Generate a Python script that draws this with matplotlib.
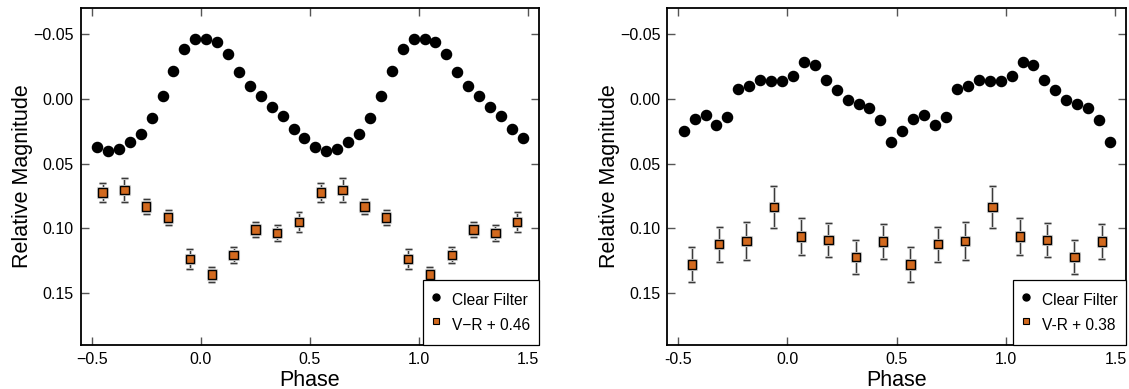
import matplotlib.pyplot as plt
import matplotlib.patheffects as pe
import numpy as np
from matplotlib.lines import Line2D
from matplotlib.ticker import FuncFormatter

plt.rcParams['font.family'] = ['Liberation Sans', 'DejaVu Sans']

# Clear filter light curves (one cycle, shown twice)
phase_clear = [-0.475, -0.425, -0.375, -0.325, -0.275, -0.225, -0.175, -0.125, -0.075, -0.025,
               0.025, 0.075, 0.125, 0.175, 0.225, 0.275, 0.325, 0.375, 0.425, 0.475]
clear_left = [0.0375, 0.0403, 0.0385, 0.0330, 0.0273, 0.0145, -0.0021, -0.0214, -0.0383, -0.0459,
              -0.0461, -0.0441, -0.0347, -0.0211, -0.0097, -0.0021, 0.0059, 0.0135, 0.0231, 0.0299]
clear_right = [0.0247, 0.0153, 0.0122, 0.0205, 0.0141, -0.0076, -0.0099, -0.0146, -0.0136, -0.0136,
               -0.0180, -0.0287, -0.0258, -0.0146, -0.0066, 0.0005, 0.0039, 0.0067, 0.0166, 0.0336]

# V-R colour curves
phase_vr_left = [-0.45, -0.35, -0.25, -0.15, -0.05, 0.05, 0.15, 0.25, 0.35, 0.45]
vr_left = [0.0723, 0.0703, 0.0830, 0.0916, 0.1237, 0.1356, 0.1203, 0.1008, 0.1034, 0.0950]
vr_left_err = [0.0075, 0.0090, 0.0060, 0.0060, 0.0078, 0.0055, 0.0060, 0.0060, 0.0060, 0.0078]

phase_vr_right = [-0.4375, -0.3125, -0.1875, -0.0625, 0.0625, 0.1875, 0.3125, 0.4375]
vr_right = [0.1278, 0.1122, 0.1096, 0.0836, 0.1062, 0.1088, 0.1219, 0.1101]
vr_right_err = [0.0137, 0.0134, 0.0148, 0.0164, 0.0146, 0.0129, 0.0129, 0.0137]

panels = [
    (clear_left, phase_vr_left, vr_left, vr_left_err, "V\u2212R + 0.46", "\u2212"),
    (clear_right, phase_vr_right, vr_right, vr_right_err, "V-R + 0.38", "-"),
]

orange = "#d2691e"
halo = [pe.withStroke(linewidth=2.2, foreground="#d8d8d8")]

fig = plt.figure(figsize=(11.29, 3.89), dpi=100)
positions = [[0.0715, 0.113, 0.406, 0.866], [0.591, 0.113, 0.4067, 0.866]]

for pos, (clear, ph_vr, vr, vr_err, vr_label, minus) in zip(positions, panels):
    ax = fig.add_axes(pos)
    ph = np.array(phase_clear)
    ax.plot(np.concatenate([ph, ph + 1]), clear + clear, "o", color="black",
            markersize=7.3, zorder=3)

    pv = np.array(ph_vr)
    eb = ax.errorbar(np.concatenate([pv, pv + 1]), vr + vr, yerr=vr_err + vr_err,
                     fmt="s", color=orange, markeredgecolor="black", markeredgewidth=1.0,
                     markersize=6, ecolor="#3a3a3a", elinewidth=0.9, capsize=2.5,
                     capthick=0.9, zorder=2)
    eb[0].set_path_effects(halo)
    for art in list(eb[1]) + list(eb[2]):
        art.set_path_effects(halo)

    ax.set_xlim(-0.55, 1.55)
    ax.set_ylim(0.19, -0.07)
    ax.set_xticks([-0.5, 0.0, 0.5, 1.0, 1.5])
    ax.set_yticks([-0.05, 0.0, 0.05, 0.10, 0.15])
    ax.xaxis.set_major_formatter(FuncFormatter(lambda v, p, m=minus: f"{v:.1f}".replace("-", m)))
    ax.yaxis.set_major_formatter(FuncFormatter(lambda v, p: f"{v:.2f}".replace("-", "\u2212")))
    ax.tick_params(direction="in", length=6, width=1.0, color="#555555",
                   labelsize=11.5, top=True, right=True, pad=5)
    for sp in ax.spines.values():
        sp.set_linewidth(1.3)

    ax.set_xlabel("Phase", fontsize=15.5, labelpad=2)
    ax.set_ylabel("Relative Magnitude", fontsize=15.5, labelpad=0)

    handles = [
        Line2D([], [], ls="none", marker="o", color="black", markersize=5),
        Line2D([], [], ls="none", marker="s", color=orange, markeredgecolor="black",
               markeredgewidth=0.8, markersize=4.5),
    ]
    leg = ax.legend(handles, ["Clear Filter", vr_label], loc="lower right",
                    borderaxespad=0, fancybox=False, framealpha=1, edgecolor="black",
                    fontsize=11.2, handletextpad=0.75, handlelength=0.6,
                    handleheight=1.95, borderpad=0.55, labelspacing=0.05)
    leg.get_frame().set_linewidth(0.9)

fig.savefig("out.png", dpi=100)
